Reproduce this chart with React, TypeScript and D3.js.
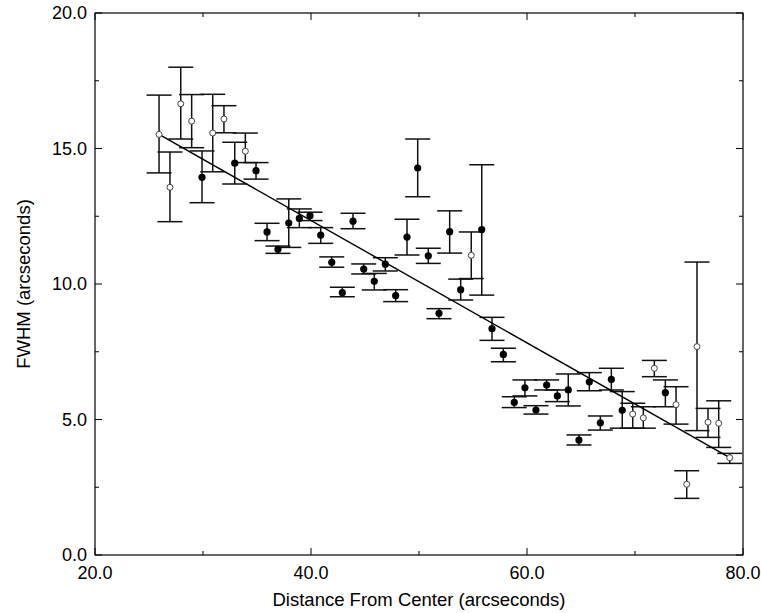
import React from "react";
import * as d3 from "d3";

const distance = [25.93,26.94,27.94,28.95,29.91,30.90,31.94,32.94,33.92,34.91,35.93,36.94,37.94,38.92,39.91,40.90,41.92,42.90,43.89,44.88,45.86,46.88,47.84,48.89,49.88,50.86,51.85,52.84,53.86,54.84,55.81,56.76,57.81,58.82,59.81,60.83,61.82,62.81,63.82,64.81,65.77,66.79,67.81,68.82,69.79,70.77,71.79,72.81,73.80,74.79,75.74,76.76,77.75,78.77];
const fwhm = [15.52,13.57,16.65,16.01,13.94,15.57,16.09,14.46,14.90,14.18,11.92,11.28,12.25,12.42,12.52,11.80,10.80,9.68,12.32,10.55,10.10,10.73,9.57,11.73,14.28,11.04,8.92,11.93,9.79,11.06,12.01,8.35,7.40,5.63,6.17,5.35,6.27,5.87,6.09,4.24,6.39,4.88,6.48,5.34,5.20,5.06,6.89,5.99,5.55,2.61,7.69,4.90,4.86,3.59];
const errHigh = [16.97,14.87,18.0,16.99,14.91,17.0,16.58,15.23,15.57,14.48,12.24,11.40,13.14,12.77,12.65,12.08,11.0,9.88,12.61,10.74,10.39,10.97,9.79,12.39,15.35,11.32,9.09,12.70,10.18,11.92,14.40,8.77,7.63,5.84,6.46,5.51,6.46,6.09,6.68,4.43,6.73,5.13,6.89,6.03,5.60,5.47,7.18,6.46,6.21,3.11,10.81,5.41,5.69,3.75];
const errLow = [14.10,12.30,15.35,15.03,13.0,14.14,15.58,13.69,14.48,13.87,11.60,11.13,11.35,12.08,12.34,11.50,10.62,9.53,12.04,10.37,9.78,10.48,9.35,11.07,13.22,10.76,8.72,11.14,9.41,10.20,9.59,7.92,7.13,5.44,5.87,5.20,6.09,5.66,5.50,4.06,6.06,4.61,6.09,4.68,4.68,4.68,6.58,5.47,4.83,2.09,4.59,4.34,3.97,3.38];
const openMarker = [1,1,1,1,0,1,1,0,1,0,0,0,0,0,0,0,0,0,0,0,0,0,0,0,0,0,0,0,0,1,0,0,0,0,0,0,0,0,0,0,0,0,0,0,1,1,1,0,1,1,1,1,1,1];
const fitX = [25.93, 78.77];
const fitY = [15.52, 3.59];
const xTicks = [20, 40, 60, 80];
const xMinorTicks = [30, 50, 70];
const yTicks = [0, 5, 10, 15, 20];
const yMinorTicks = [2.5, 7.5, 12.5, 17.5];

const W = 761, H = 613;
const L = 95, R = 743, T = 13, B = 555;
const FONT = "'Liberation Sans', Arial, Helvetica, sans-serif";

export default function App() {
  const x = d3.scaleLinear().domain([20, 80]).range([L, R]);
  const y = d3.scaleLinear().domain([0, 20]).range([B, T]);
  const line = d3.line<number>().x((_, i) => x(fitX[i])).y((_, i) => y(fitY[i]));
  const cap = 12.5;
  const major = 7, minor = 4;
  return (
    <svg width={W} height={H} style={{ position: "absolute", left: 0, top: 0, background: "#fff" }}>
      <rect x={0} y={0} width={W} height={H} fill="#fff" />
      {/* error bars */}
      {distance.map((d, i) => (
        <g key={"e" + i} stroke="#111" strokeWidth={1.5}>
          <line x1={x(d)} x2={x(d)} y1={y(errLow[i])} y2={y(errHigh[i])} />
          <line x1={x(d) - cap} x2={x(d) + cap} y1={y(errLow[i])} y2={y(errLow[i])} />
          <line x1={x(d) - cap} x2={x(d) + cap} y1={y(errHigh[i])} y2={y(errHigh[i])} />
        </g>
      ))}
      {/* fit line */}
      <path d={line(fitX) || ""} fill="none" stroke="#000" strokeWidth={1.4} />
      {/* markers */}
      {distance.map((d, i) =>
        openMarker[i] ? (
          <circle key={"m" + i} cx={x(d)} cy={y(fwhm[i])} r={3} fill="#fff" stroke="#444" strokeWidth={1} />
        ) : (
          <circle key={"m" + i} cx={x(d)} cy={y(fwhm[i])} r={3.6} fill="#000" />
        )
      )}
      {/* frame */}
      <rect x={L} y={T} width={R - L} height={B - T} fill="none" stroke="#000" strokeWidth={1.2} />
      {/* ticks */}
      <g stroke="#000" strokeWidth={1}>
        {xTicks.map((t) => (
          <g key={"xt" + t}>
            <line x1={x(t)} x2={x(t)} y1={B} y2={B - major} />
            <line x1={x(t)} x2={x(t)} y1={T} y2={T + major} />
          </g>
        ))}
        {xMinorTicks.map((t) => (
          <g key={"xm" + t}>
            <line x1={x(t)} x2={x(t)} y1={B} y2={B - minor} />
            <line x1={x(t)} x2={x(t)} y1={T} y2={T + minor} />
          </g>
        ))}
        {yTicks.map((t) => (
          <g key={"yt" + t}>
            <line x1={L} x2={L + major} y1={y(t)} y2={y(t)} />
            <line x1={R} x2={R - major} y1={y(t)} y2={y(t)} />
          </g>
        ))}
        {yMinorTicks.map((t) => (
          <g key={"ym" + t}>
            <line x1={L} x2={L + minor} y1={y(t)} y2={y(t)} />
            <line x1={R} x2={R - minor} y1={y(t)} y2={y(t)} />
          </g>
        ))}
      </g>
      {/* tick labels */}
      <g fontFamily={FONT} fontSize={18} fill="#000">
        {xTicks.map((t) => (
          <text key={"xl" + t} x={x(t)} y={B + 24} textAnchor="middle">{d3.format(".1f")(t)}</text>
        ))}
        {yTicks.map((t) => (
          <text key={"yl" + t} x={L - 8} y={y(t) + 6} textAnchor="end">{d3.format(".1f")(t)}</text>
        ))}
      </g>
      <text x={(L + R) / 2} y={606} textAnchor="middle" fontFamily={FONT} fontSize={18.5}>Distance From Center (arcseconds)</text>
      <text transform={`translate(30,${(T + B) / 2}) rotate(-90)`} textAnchor="middle" fontFamily={FONT} fontSize={18.5}>FWHM (arcseconds)</text>
    </svg>
  );
}
